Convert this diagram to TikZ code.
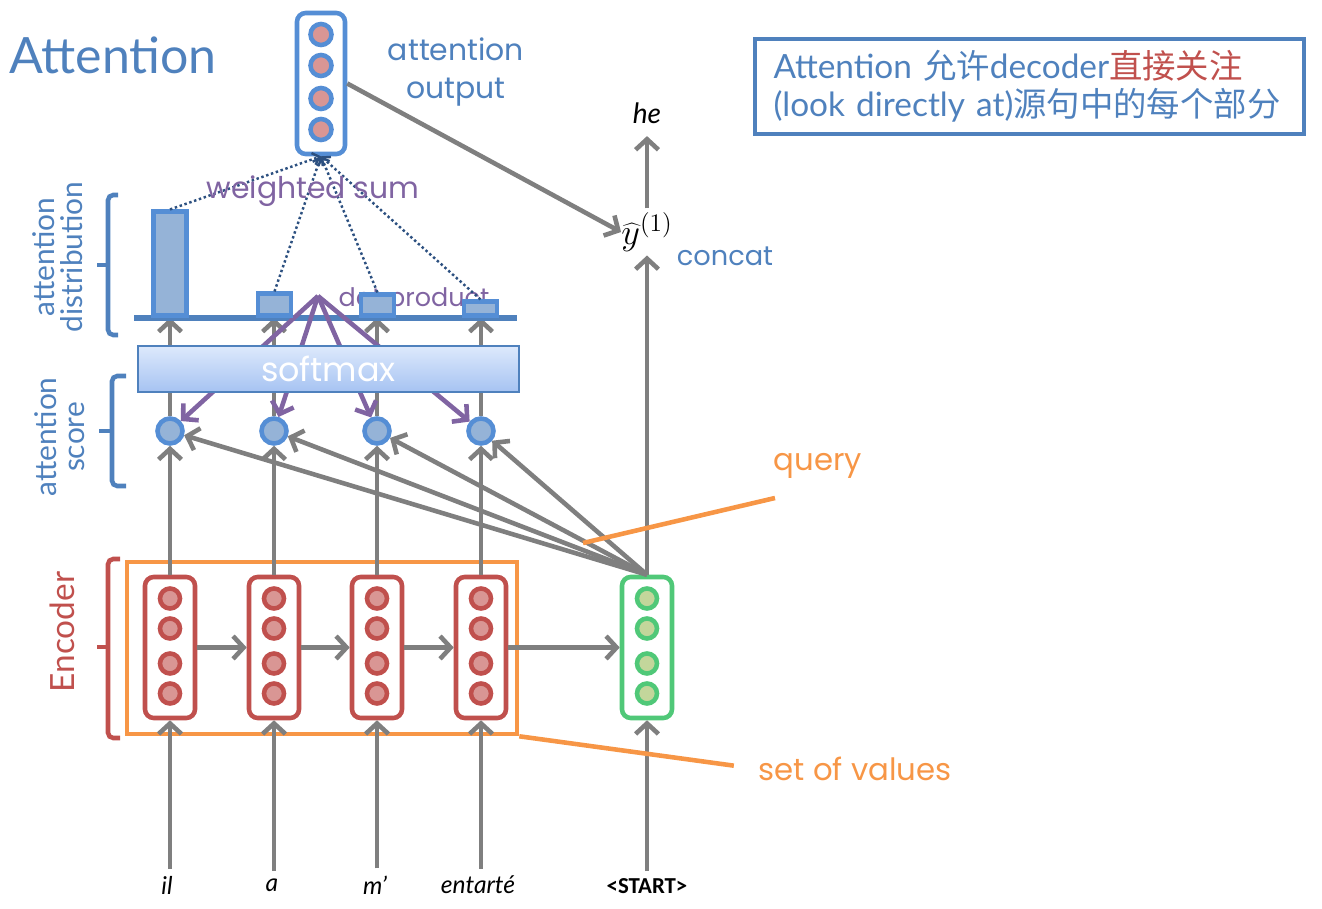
\documentclass[tikz,border=0pt]{standalone}
\usepackage{fontspec}
\setmainfont{Lato}
\newfontfamily\cjk{Noto Sans CJK SC}
\newfontfamily\comic{Poppins}
\newfontfamily\carlitofont{Carlito}
\usetikzlibrary{arrows.meta}
\definecolor{tblue}{HTML}{4F81BD}
\definecolor{bblue}{HTML}{558ED5}
\definecolor{barfill}{HTML}{95B3D7}
\definecolor{gry}{HTML}{7F7F7F}
\definecolor{ered}{HTML}{C0504D}
\definecolor{pinkf}{HTML}{D99694}
\definecolor{grn}{HTML}{50C878}
\definecolor{grnf}{HTML}{C3D69B}
\definecolor{orng}{HTML}{F79646}
\definecolor{purp}{HTML}{8064A2}
\definecolor{dblue}{HTML}{2C5080}
\definecolor{smtop}{HTML}{DDE9FC}
\definecolor{smbot}{HTML}{A6C3F2}
\begin{document}
\begin{tikzpicture}[x=0.02cm,y=-0.02cm,
  garrow/.style={draw=gry,line width=2.6pt,-{Straight Barb[length=6pt,width=13pt]}},
  parrow/.style={draw=purp,line width=2.6pt,-{Straight Barb[length=6pt,width=13pt]}},
  dotarrow/.style={draw=dblue,line width=1.4pt,dash pattern=on 1.4pt off 1.5pt,-{Straight Barb[length=3.5pt,width=7pt]}},
  vecbox/.style={line width=2.6pt,rounded corners=5pt,minimum width=50*0.02cm,minimum height=141*0.02cm,fill=white,inner sep=0},
  encbox/.style={vecbox,draw=ered},
  decbox/.style={vecbox,draw=grn},
  outbox/.style={vecbox,draw=bblue,minimum width=48*0.02cm},
  ecirc/.style={circle,draw=ered,fill=pinkf,line width=2.6pt,minimum size=20*0.02cm,inner sep=0},
  dcirc/.style={circle,draw=grn,fill=grnf,line width=2.6pt,minimum size=20*0.02cm,inner sep=0},
  ocirc/.style={circle,draw=bblue,fill=pinkf,line width=2.6pt,minimum size=21*0.02cm,inner sep=0},
  scirc/.style={circle,draw=bblue,fill=barfill,line width=2.6pt,minimum size=25*0.02cm,inner sep=0},
  bar/.style={draw=bblue,fill=barfill,line width=2.6pt,minimum width=33*0.02cm,anchor=south,inner sep=0},
  brace/.style={line width=2.6pt,rounded corners=3pt},
  comictxt/.style={font=\comic\fontsize{#1}{#1}\selectfont},
  word/.style={font=\itshape\fontsize{14}{14}\selectfont,inner sep=1pt},
  oline/.style={draw=orng,line width=2.6pt}
]
\useasboundingbox (0,0) rectangle (1322,909);

% note box
\node[draw=tblue,line width=2.6pt,minimum width=549*0.02cm,minimum height=95*0.02cm,
  text width=512*0.02cm,align=left,inner sep=0,text=tblue,
  font=\fontsize{19}{21.5}\selectfont] (note) at (1029.5,86.5)
  {Attention {\cjk 允许}decoder{\color{ered}\cjk 直接关注}\\(look directly at){\cjk 源句中的每个部分}};

% title
\node[text=tblue,font=\fontsize{28.5}{30}\selectfont] (title) at (113,55) {Attention};

% braces and side labels
\draw[brace,draw=tblue] (118,195) -- (108,195) -- (108,335) -- (118,335);
\draw[brace,draw=tblue] (108,265) -- (97,265);
\node[rotate=90,align=center,text=tblue,font=\fontsize{17}{16}\selectfont] (ldist) at (58,257) {attention\\distribution};
\draw[brace,draw=tblue] (126,376) -- (112,376) -- (112,486) -- (126,486);
\draw[brace,draw=tblue] (112,431) -- (99,431);
\node[rotate=90,align=center,text=tblue,font=\fontsize{17}{16}\selectfont] (lscore) at (60,437) {attention\\score};
\draw[brace,draw=ered] (120,559) -- (108,559) -- (108,738) -- (120,738);
\draw[brace,draw=ered] (108,647) -- (97,647);
\node[rotate=90,text=ered,font=\fontsize{19}{19}\selectfont] (lenc) at (62,632) {Encoder};

% orange box (set of values)
\node[draw=orng,line width=2.6pt,minimum width=390*0.02cm,minimum height=172*0.02cm,inner sep=0] (ob) at (322,648) {};

% encoder and decoder vectors
\foreach \i/\x in {1/170,2/274,3/377,4/481}{
  \node[encbox] (e\i) at (\x,647.5) {};
  \foreach \j/\dy in {1/-49,2/-19,3/16,4/46}
    \node[ecirc] (e\i c\j) at (\x,647.5+\dy) {};
}
\node[decbox] (dec) at (647,647.5) {};
\foreach \j/\dy in {1/-49,2/-19,3/16,4/46}
  \node[dcirc] (dc\j) at (647,647.5+\dy) {};

% words
\node[word] (w1) at (167,885) {il};
\node[word] (w2) at (272,885) {a};
\node[word] (w3) at (375,885) {m'};
\node[word] (w4) at (478,885) {entarté};
\node[font=\carlitofont\bfseries\fontsize{13}{13}\selectfont,inner sep=1pt] (w5) at (647,886) {<START>};

% input arrows
\foreach \i in {1,2,3,4}
  \draw[garrow,shorten <=3pt] (e\i.south |- w\i.north) -- (e\i.south);
\draw[garrow,shorten <=3pt] (dec.south |- w5.north) -- (dec.south);

% horizontal RNN arrows
\draw[garrow] (e1.east) -- (e2.west);
\draw[garrow] (e2.east) -- (e3.west);
\draw[garrow] (e3.east) -- (e4.west);
\draw[garrow] (e4.east) -- (dec.west);

% score circles
\foreach \i/\x in {1/170,2/274,3/377,4/481}
  \node[scirc] (sc\i) at (\x,431) {};

% encoder to scores
\foreach \i in {1,2,3,4}
  \draw[garrow] (e\i.north) -- (sc\i);
% decoder to scores
\foreach \i in {1,2,3,4}
  \draw[garrow] (dec.north) -- (sc\i);

% baseline of distribution
\coordinate (base) at (0,318);
\foreach \i in {1,2,3,4}
  \draw[garrow] (sc\i) -- (sc\i |- base);
\draw[draw=tblue,line width=3pt] (134,318) -- (517,318);

% dot product arrows
\coordinate (dp) at (318,296);
\foreach \i in {1,2,3,4}
  \draw[parrow] (dp) -- (sc\i);

% softmax
\node[draw=tblue,line width=1.3pt,top color=smtop,bottom color=smbot,minimum width=381*0.02cm,minimum height=46*0.02cm,
  text=white,font=\comic\fontsize{19}{19}\selectfont,inner sep=0] (sm) at (328.5,369) {softmax};

% dot product label
\node[text=purp,font=\comic\fontsize{14.5}{14.5}\selectfont,inner sep=0] (dpl) at (414,300) {dot product};

% bars
\node[bar,minimum height=104*0.02cm] (b1) at (170,318) {};
\node[bar,minimum height=22*0.02cm] (b2) at (274.5,318) {};
\node[bar,minimum height=21*0.02cm] (b3) at (377.5,318) {};
\node[bar,minimum height=14*0.02cm] (b4) at (480.5,318) {};

% output vector
\node[outbox] (out) at (321,83.5) {};
\foreach \j/\dy in {1/-49,2/-18,3/15,4/46}
  \node[ocirc] (oc\j) at (321,83.5+\dy) {};

% weighted sum
\foreach \i in {1,2,3,4}
  \draw[dotarrow] (b\i.north) -- (out.south);
\node[text=purp,comictxt=17,inner sep=0] (ws) at (313,191) {weighted sum};
\node[text=tblue,font=\comic\fontsize{17}{22}\selectfont,align=center,inner sep=0] (aol) at (456,72) {attention\\output};

% decoder output path
\node[inner sep=0pt,font=\fontsize{20}{20}\selectfont] (yh) at (647,232) {$\widehat{y}^{(1)}$};
\node[font=\itshape\fontsize{16}{16}\selectfont,inner sep=1pt] (he) at (647,113) {he};
\draw[garrow,shorten >=2pt] (dec.north) -- (yh.south -| dec.north);
\draw[garrow,shorten >=6pt,shorten <=2pt] (yh.north -| dec.north) -- (he.south -| dec.north);
\draw[garrow] (out.east) -- (yh.west);
\node[text=tblue,comictxt=15.5,inner sep=0] (concat) at (725,256) {concat};

% query and set of values
\node[text=orng,comictxt=17.5,inner sep=0] (query) at (818,466) {query};
\coordinate (qend) at (583,543);
\coordinate (qstart) at (775,498);
\draw[oline] (qend) -- (qstart);
\node[text=orng,comictxt=17.5,inner sep=0] (sov) at (855,769) {set of values};
\draw[oline,shorten >=14pt] (ob.south east) -- (sov.west);
\end{tikzpicture}
\end{document}
